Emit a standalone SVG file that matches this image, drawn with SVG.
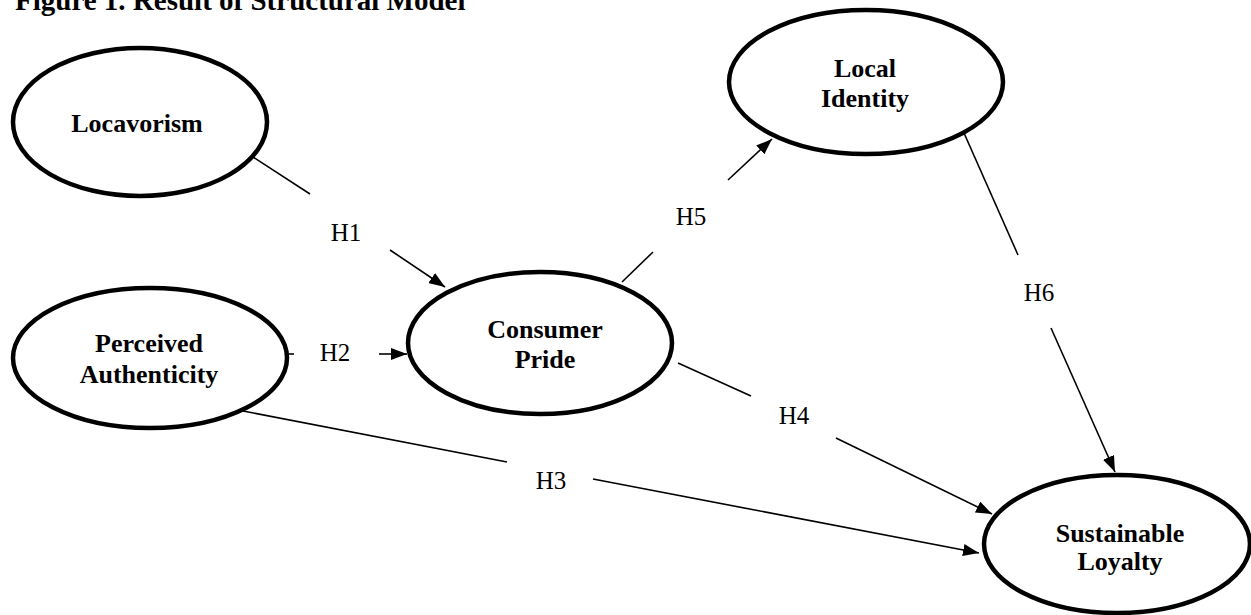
<svg xmlns="http://www.w3.org/2000/svg" width="1251" height="615" viewBox="0 0 1251 615">
<defs>
<style>
.node ellipse{fill:#fff;stroke:#000;stroke-width:4.5}
.node text{font-family:"Liberation Serif","Times New Roman",serif;font-weight:bold;font-size:26px;fill:#000;text-anchor:middle}
.title{font-family:"Liberation Serif","Times New Roman",serif;font-weight:bold;font-size:29px;fill:#000}
.conn line{stroke:#000;stroke-width:1.6;fill:none}
.lbl{font-family:"Liberation Serif","Times New Roman",serif;font-size:25px;fill:#000;text-anchor:middle}
</style>
<marker id="arr" markerUnits="userSpaceOnUse" markerWidth="16" markerHeight="12" refX="16" refY="6" orient="auto">
<path d="M0,0 L16,6 L0,12 z" fill="#000"/>
</marker>
</defs>
<rect width="1251" height="615" fill="#fff"/>
<text class="title" x="15" y="10">Figure 1. Result of Structural Model</text>
<g class="conn" id="connectors">
<line x1="253" y1="157" x2="310" y2="194"/>
<line x1="390" y1="250" x2="445" y2="287" marker-end="url(#arr)"/>
<line x1="287" y1="354" x2="294" y2="354"/>
<line x1="379" y1="354" x2="407" y2="354" marker-end="url(#arr)"/>
<line x1="622" y1="282" x2="653" y2="252"/>
<line x1="728" y1="180" x2="772" y2="139" marker-end="url(#arr)"/>
<line x1="964" y1="133" x2="1018" y2="255"/>
<line x1="1051" y1="328" x2="1115" y2="472" marker-end="url(#arr)"/>
<line x1="678" y1="363" x2="751" y2="396"/>
<line x1="836" y1="438" x2="992" y2="514" marker-end="url(#arr)"/>
<line x1="243" y1="411" x2="507" y2="462"/>
<line x1="593" y1="479" x2="979" y2="553" marker-end="url(#arr)"/>
<text class="lbl" x="346" y="241">H1</text>
<text class="lbl" x="335" y="361">H2</text>
<text class="lbl" x="551" y="489">H3</text>
<text class="lbl" x="794" y="424">H4</text>
<text class="lbl" x="691" y="225">H5</text>
<text class="lbl" x="1039" y="301">H6</text>
</g>
<g class="node" id="locavorism">
<ellipse cx="140" cy="122" rx="127" ry="74"/>
<text x="137" y="132">Locavorism</text>
</g>
<g class="node" id="perceived-authenticity">
<ellipse cx="150" cy="358" rx="137" ry="70"/>
<text x="149" y="352">Perceived</text>
<text x="149" y="383">Authenticity</text>
</g>
<g class="node" id="consumer-pride">
<ellipse cx="540" cy="343" rx="132" ry="71"/>
<text x="545" y="338">Consumer</text>
<text x="545" y="368">Pride</text>
</g>
<g class="node" id="local-identity">
<ellipse cx="866" cy="82" rx="137" ry="72"/>
<text x="865" y="77">Local</text>
<text x="865" y="107">Identity</text>
</g>
<g class="node" id="sustainable-loyalty">
<ellipse cx="1117" cy="544" rx="133" ry="69"/>
<text x="1120" y="542">Sustainable</text>
<text x="1120" y="570">Loyalty</text>
</g>
</svg>
